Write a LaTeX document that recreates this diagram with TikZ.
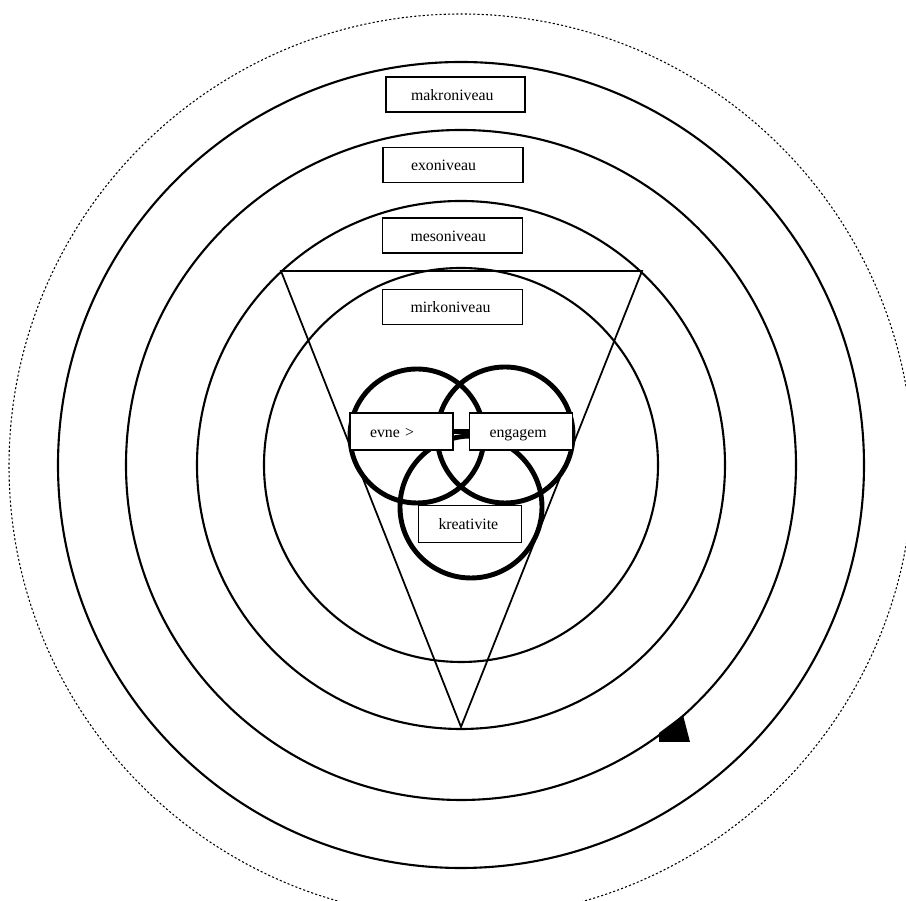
\documentclass[tikz,border=0pt]{standalone}
\usepackage{fontspec}
\setmainfont{Liberation Serif}
\usetikzlibrary{calc}
\tikzset{
  lvl_box/.style={rectangle,draw=black,fill=white,line width=1pt,text width=1.68cm,inner xsep=0.56cm,inner ysep=0pt,minimum height=0.7cm,align=left,text height=6.5pt,text depth=0pt,font=\fontsize{9}{10}\selectfont},
  core_box/.style={rectangle,draw=black,fill=white,line width=1pt,text width=1.26cm,inner xsep=0.4cm,inner ysep=0pt,minimum height=0.74cm,align=left,text height=6.5pt,text depth=0pt,font=\fontsize{9}{10}\selectfont},
  ring/.style={line width=1.2pt},
  core_ring/.style={line width=2.8pt},
  halo/.style={line width=0.6pt,dash pattern=on 1.2pt off 1.2pt},
  tri/.style={line width=1pt,line join=miter},
}

\begin{document}
\begin{tikzpicture}[x=0.02cm,y=0.02cm]
\useasboundingbox (-461,-436) rectangle (445,465);
\def\rA{403}\def\rB{335}\def\rC{264}\def\rD{197}
% levels
\draw[halo] (0,-1) circle[radius=452];
\foreach \r in {\rA,\rB,\rC,\rD}{\draw[ring] (0,0) circle[radius=\r];}
\draw[tri] (-180,194) -- (181,194) -- (0,-262) -- cycle;
% core
\draw[core_ring] (-44,29) circle[radius=67];
\draw[core_ring] (44,30) circle[radius=68];
\draw[core_ring] (10,-42) circle[radius=71];
% labels
\node[lvl_box,text width=1.78cm,inner xsep=0.5cm] at (-5.5,370.5)(MA){makroniveau};
\node[lvl_box] at (-8,300)(EX){exoniveau};
\node[lvl_box] at (-8.5,229.5)(ME){mesoniveau};
\node[lvl_box] at (-8.5,158)(MI){mirkoniveau};
\node[core_box] at (-59.5,33.5)(EV){evne >};
\node[core_box] at (60,33.5)(EN){engagem};
\node[core_box] at (9,-59)(KR){kreativite};
\draw[core_ring] (EV.east) -- (EN.west);
% marker
\fill[black] (198,-277) -- (198,-268) -- (222,-250) -- (229,-277) -- cycle;
\end{tikzpicture}
\end{document}
